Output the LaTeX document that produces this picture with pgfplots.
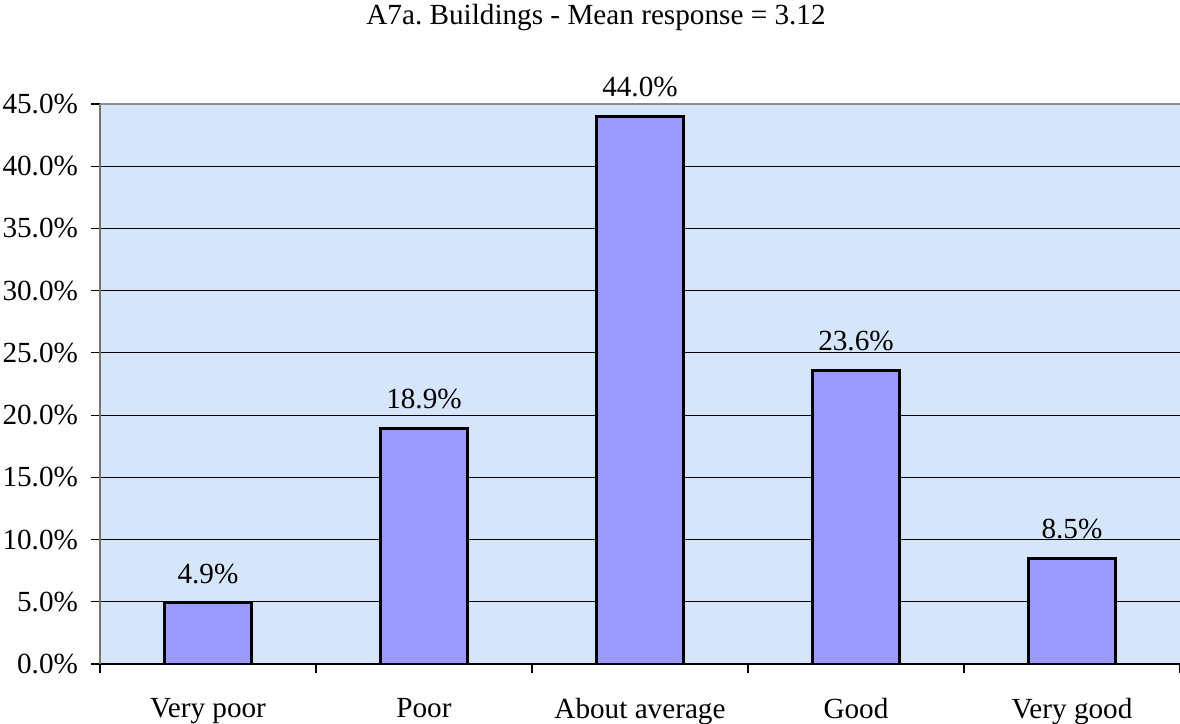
\documentclass[border=0pt]{standalone}
\usepackage{fontspec}
\setmainfont{Liberation Serif}
\usepackage{pgfplots}
\pgfplotsset{compat=1.18}
\definecolor{barfill}{RGB}{153,153,255}
\definecolor{plotbg}{RGB}{214,230,250}
\frenchspacing

\begin{document}
\begin{tikzpicture}
\begin{axis}[
    scale only axis,
    width=540pt, height=280pt,
    ybar, bar width=0.4,
    xmin=-0.5, xmax=4.5, ymin=0, ymax=45,
    axis background/.style={fill=plotbg},
    axis x line*=bottom, axis y line*=left,
    x axis line style={black, line width=0.6pt, -},
    y axis line style={black!55, line width=1pt, -},
    xtick={0,1,2,3,4},
    xticklabels={Very poor, Poor, About average, Good, Very good},
    major x tick style={draw=none},
    minor xtick={-0.5,0.5,1.5,2.5,3.5,4.5},
    minor x tick style={black, line width=0.6pt},
    ytick={0,5,...,45},
    tick align=outside,
    major tick length=4.5pt, minor tick length=4.5pt,
    ytick style={black, line width=0.6pt},
    ymajorgrids,
    grid style={black, line width=0.5pt},
    yticklabel={\pgfmathprintnumber[fixed,fixed zerofill,precision=1]{\tick}\%},
    /pgf/number format/assume math mode=true,
    tick label style={font=\fontsize{14.6}{17}\selectfont},
    xticklabel style={yshift=-9pt},
    yticklabel style={xshift=-3pt},
    nodes near coords={\pgfmathprintnumber[fixed,fixed zerofill,precision=1]{\pgfplotspointmeta}\%},
    every node near coord/.append style={font=\fontsize{14.6}{17}\selectfont, anchor=base, yshift=10pt, black},
    clip=false,
]
\addplot[fill=barfill, draw=black, line width=1.4pt] coordinates {
    (0,4.9) (1,18.9) (2,44.0) (3,23.6) (4,8.5)
};
\draw[black!45, line width=1pt] (rel axis cs:0,1) -- (rel axis cs:1,1);
\end{axis}
\node[font=\fontsize{14.6}{17}\selectfont] at (248pt,323pt) {A7a. Buildings - Mean response = 3.12};
\pgfresetboundingbox
\path[use as bounding box] (-50pt,-30pt) rectangle (540pt,332pt);
\end{tikzpicture}
\end{document}
